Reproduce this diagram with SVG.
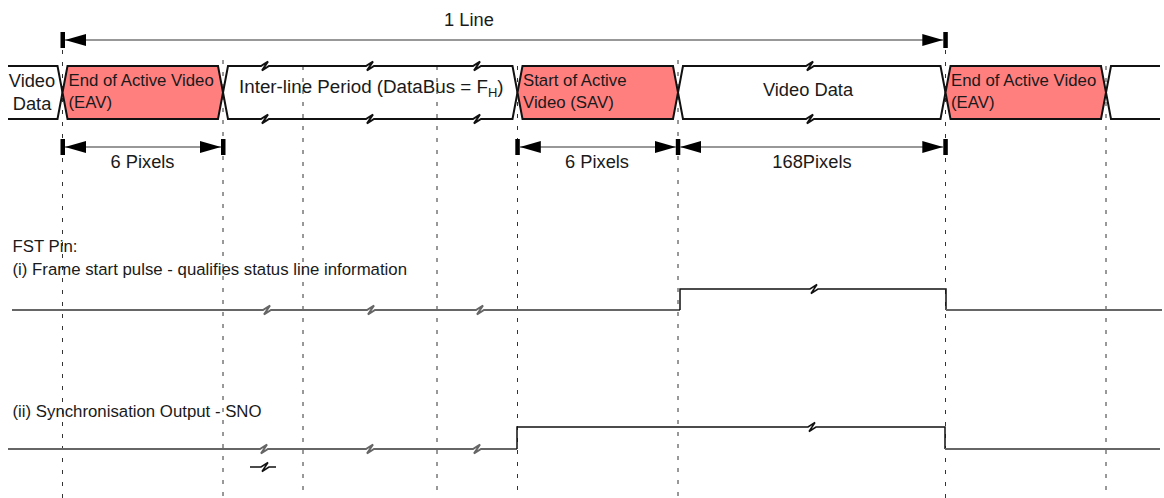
<svg xmlns="http://www.w3.org/2000/svg" width="1164" height="498" viewBox="0 0 1164 498">
<style>
text{font-family:"Liberation Sans",Arial,Helvetica,sans-serif;fill:#1a1a1a}
.big{font-size:18.3px}
.sm{font-size:16.8px}
.guide{stroke:#333;stroke-width:1;stroke-dasharray:4 8;fill:none}
.bus{stroke:#111;stroke-width:2;fill:none;stroke-linejoin:miter}
.pink{fill:#FF7F7F;stroke:#111;stroke-width:2}
.low{stroke:#666;stroke-width:2;fill:none}
.high{stroke:#111;stroke-width:1.5;fill:none}
.dim{stroke:#333;stroke-width:1.2;fill:none;marker-start:url(#ah);marker-end:url(#ah)}
.bar{fill:#000}
</style>
<defs>
<marker id="ah" markerUnits="userSpaceOnUse" markerWidth="21" markerHeight="12" refX="21" refY="6" orient="auto-start-reverse" viewBox="0 0 21 12">
<path d="M0,0 L21,6 L0,12 z" fill="#000"/>
</marker>
</defs>

<rect width="1164" height="498" fill="#fff"/>

<g id="guides">
<line class="guide" x1="62.5" y1="50" x2="62.5" y2="498"/>
<line class="guide" x1="223" y1="60" x2="223" y2="498"/>
<line class="guide" x1="303" y1="66" x2="303" y2="498"/>
<line class="guide" x1="437" y1="66" x2="437" y2="498"/>
<line class="guide" x1="517.5" y1="66" x2="517.5" y2="498"/>
<line class="guide" x1="678" y1="60" x2="678" y2="498"/>
<line class="guide" x1="945.5" y1="50" x2="945.5" y2="498"/>
<line class="guide" x1="1106" y1="66" x2="1106" y2="498"/>
</g>

<text class="big" x="469" y="26" text-anchor="middle">1 Line</text>

<g id="bus-video-data-left">
<path class="bus" d="M8,66 H57.5 L62.5,92.5 L57.5,119 H8"/>
<text class="big" x="32" y="87" text-anchor="middle">Video</text>
<text class="big" x="32" y="110" text-anchor="middle">Data</text>
</g>

<g id="bus-eav-1">
<path class="pink" d="M62.5,92.5 L67.5,66 H218 L223,92.5 L218,119 H67.5 Z"/>
<text class="sm" x="68.5" y="86">End of Active Video</text>
<text class="sm" x="68.5" y="108">(EAV)</text>
</g>

<g id="bus-interline">
<path class="bus" d="M223,92.5 L228,66 H261 l7,-4.5 l-6,9 l7,-4.5 H366 l7,-4.5 l-6,9 l7,-4.5 H473 l7,-4.5 l-6,9 l7,-4.5 H512.5 L517.5,92.5"/>
<path class="bus" d="M223,92.5 L228,119 H261 l7,-4.5 l-6,9 l7,-4.5 H366 l7,-4.5 l-6,9 l7,-4.5 H473 l7,-4.5 l-6,9 l7,-4.5 H512.5 L517.5,92.5"/>
<text x="239" y="93" style="font-size:18.8px">Inter-line Period (DataBus = F<tspan dy="4" style="font-size:13px">H</tspan><tspan dy="-4">)</tspan></text>
</g>

<g id="bus-sav">
<path class="pink" d="M517.5,92.5 L522.5,66 H673 L678,92.5 L673,119 H522.5 Z"/>
<text class="sm" x="523" y="86">Start of Active</text>
<text class="sm" x="523" y="108">Video (SAV)</text>
</g>

<g id="bus-video-data">
<path class="bus" d="M678,92.5 L683,66 H806 l7,-4.5 l-6,9 l7,-4.5 H940.5 L945.5,92.5"/>
<path class="bus" d="M678,92.5 L683,119 H806 l7,-4.5 l-6,9 l7,-4.5 H940.5 L945.5,92.5"/>
<text class="big" x="808" y="96" text-anchor="middle">Video Data</text>
</g>

<g id="bus-eav-2">
<path class="pink" d="M945.5,92.5 L950.5,66 H1101 L1106,92.5 L1101,119 H950.5 Z"/>
<text class="sm" x="951" y="86">End of Active Video</text>
<text class="sm" x="951" y="108">(EAV)</text>
</g>

<g id="bus-right">
<path class="bus" d="M1160,66 H1111 L1106,92.5 L1111,119 H1160"/>
</g>

<g id="connectors">
<rect class="bar" x="60.5" y="32" width="4.5" height="16"/>
<rect class="bar" x="943.3" y="32" width="4.5" height="16"/>
<line class="dim" x1="65" y1="40" x2="943.3" y2="40"/>

<rect class="bar" x="60.5" y="139" width="4.5" height="16"/>
<rect class="bar" x="221" y="139" width="4.5" height="16"/>
<line class="dim" x1="65" y1="147" x2="221" y2="147"/>

<rect class="bar" x="515.3" y="139" width="4.5" height="16"/>
<rect class="bar" x="675.8" y="139" width="4.5" height="16"/>
<line class="dim" x1="519.8" y1="147" x2="675.8" y2="147"/>

<rect class="bar" x="943.3" y="139" width="4.5" height="16"/>
<line class="dim" x1="680.3" y1="147" x2="943.3" y2="147"/>
</g>

<text class="big" x="142.5" y="168" text-anchor="middle">6 Pixels</text>
<text class="big" x="597" y="168" text-anchor="middle">6 Pixels</text>
<text class="big" x="812" y="168" text-anchor="middle">168Pixels</text>

<g id="fst-signal">
<text class="sm" x="12.5" y="252">FST Pin:</text>
<text class="sm" x="12.5" y="274.5">(i) Frame start pulse - qualifies status line information</text>
<path class="low" d="M12,310 H263 l7,-4.5 l-6,9 l7,-4.5 H367 l7,-4.5 l-6,9 l7,-4.5 H476 l7,-4.5 l-6,9 l7,-4.5 H680"/>
<path class="high" d="M680,310 V289 H810 l7,-4.5 l-6,9 l7,-4.5 H946 V310"/>
<path class="low" d="M946,310 H1162"/>
</g>

<g id="sno-signal">
<text class="sm" x="12.5" y="416.5">(ii) Synchronisation Output - SNO</text>
<path class="low" d="M8,449 H260 l7,-4.5 l-6,9 l7,-4.5 H366 l7,-4.5 l-6,9 l7,-4.5 H473 l7,-4.5 l-6,9 l7,-4.5 H517"/>
<path class="high" d="M517,449 V427 H808 l7,-4.5 l-6,9 l7,-4.5 H945 V449"/>
<path class="low" d="M945,449 H1160"/>
<path class="high" d="M250,467 H261 l7,-4.5 l-6,9 l7,-4.5 H276"/>
</g>
</svg>
